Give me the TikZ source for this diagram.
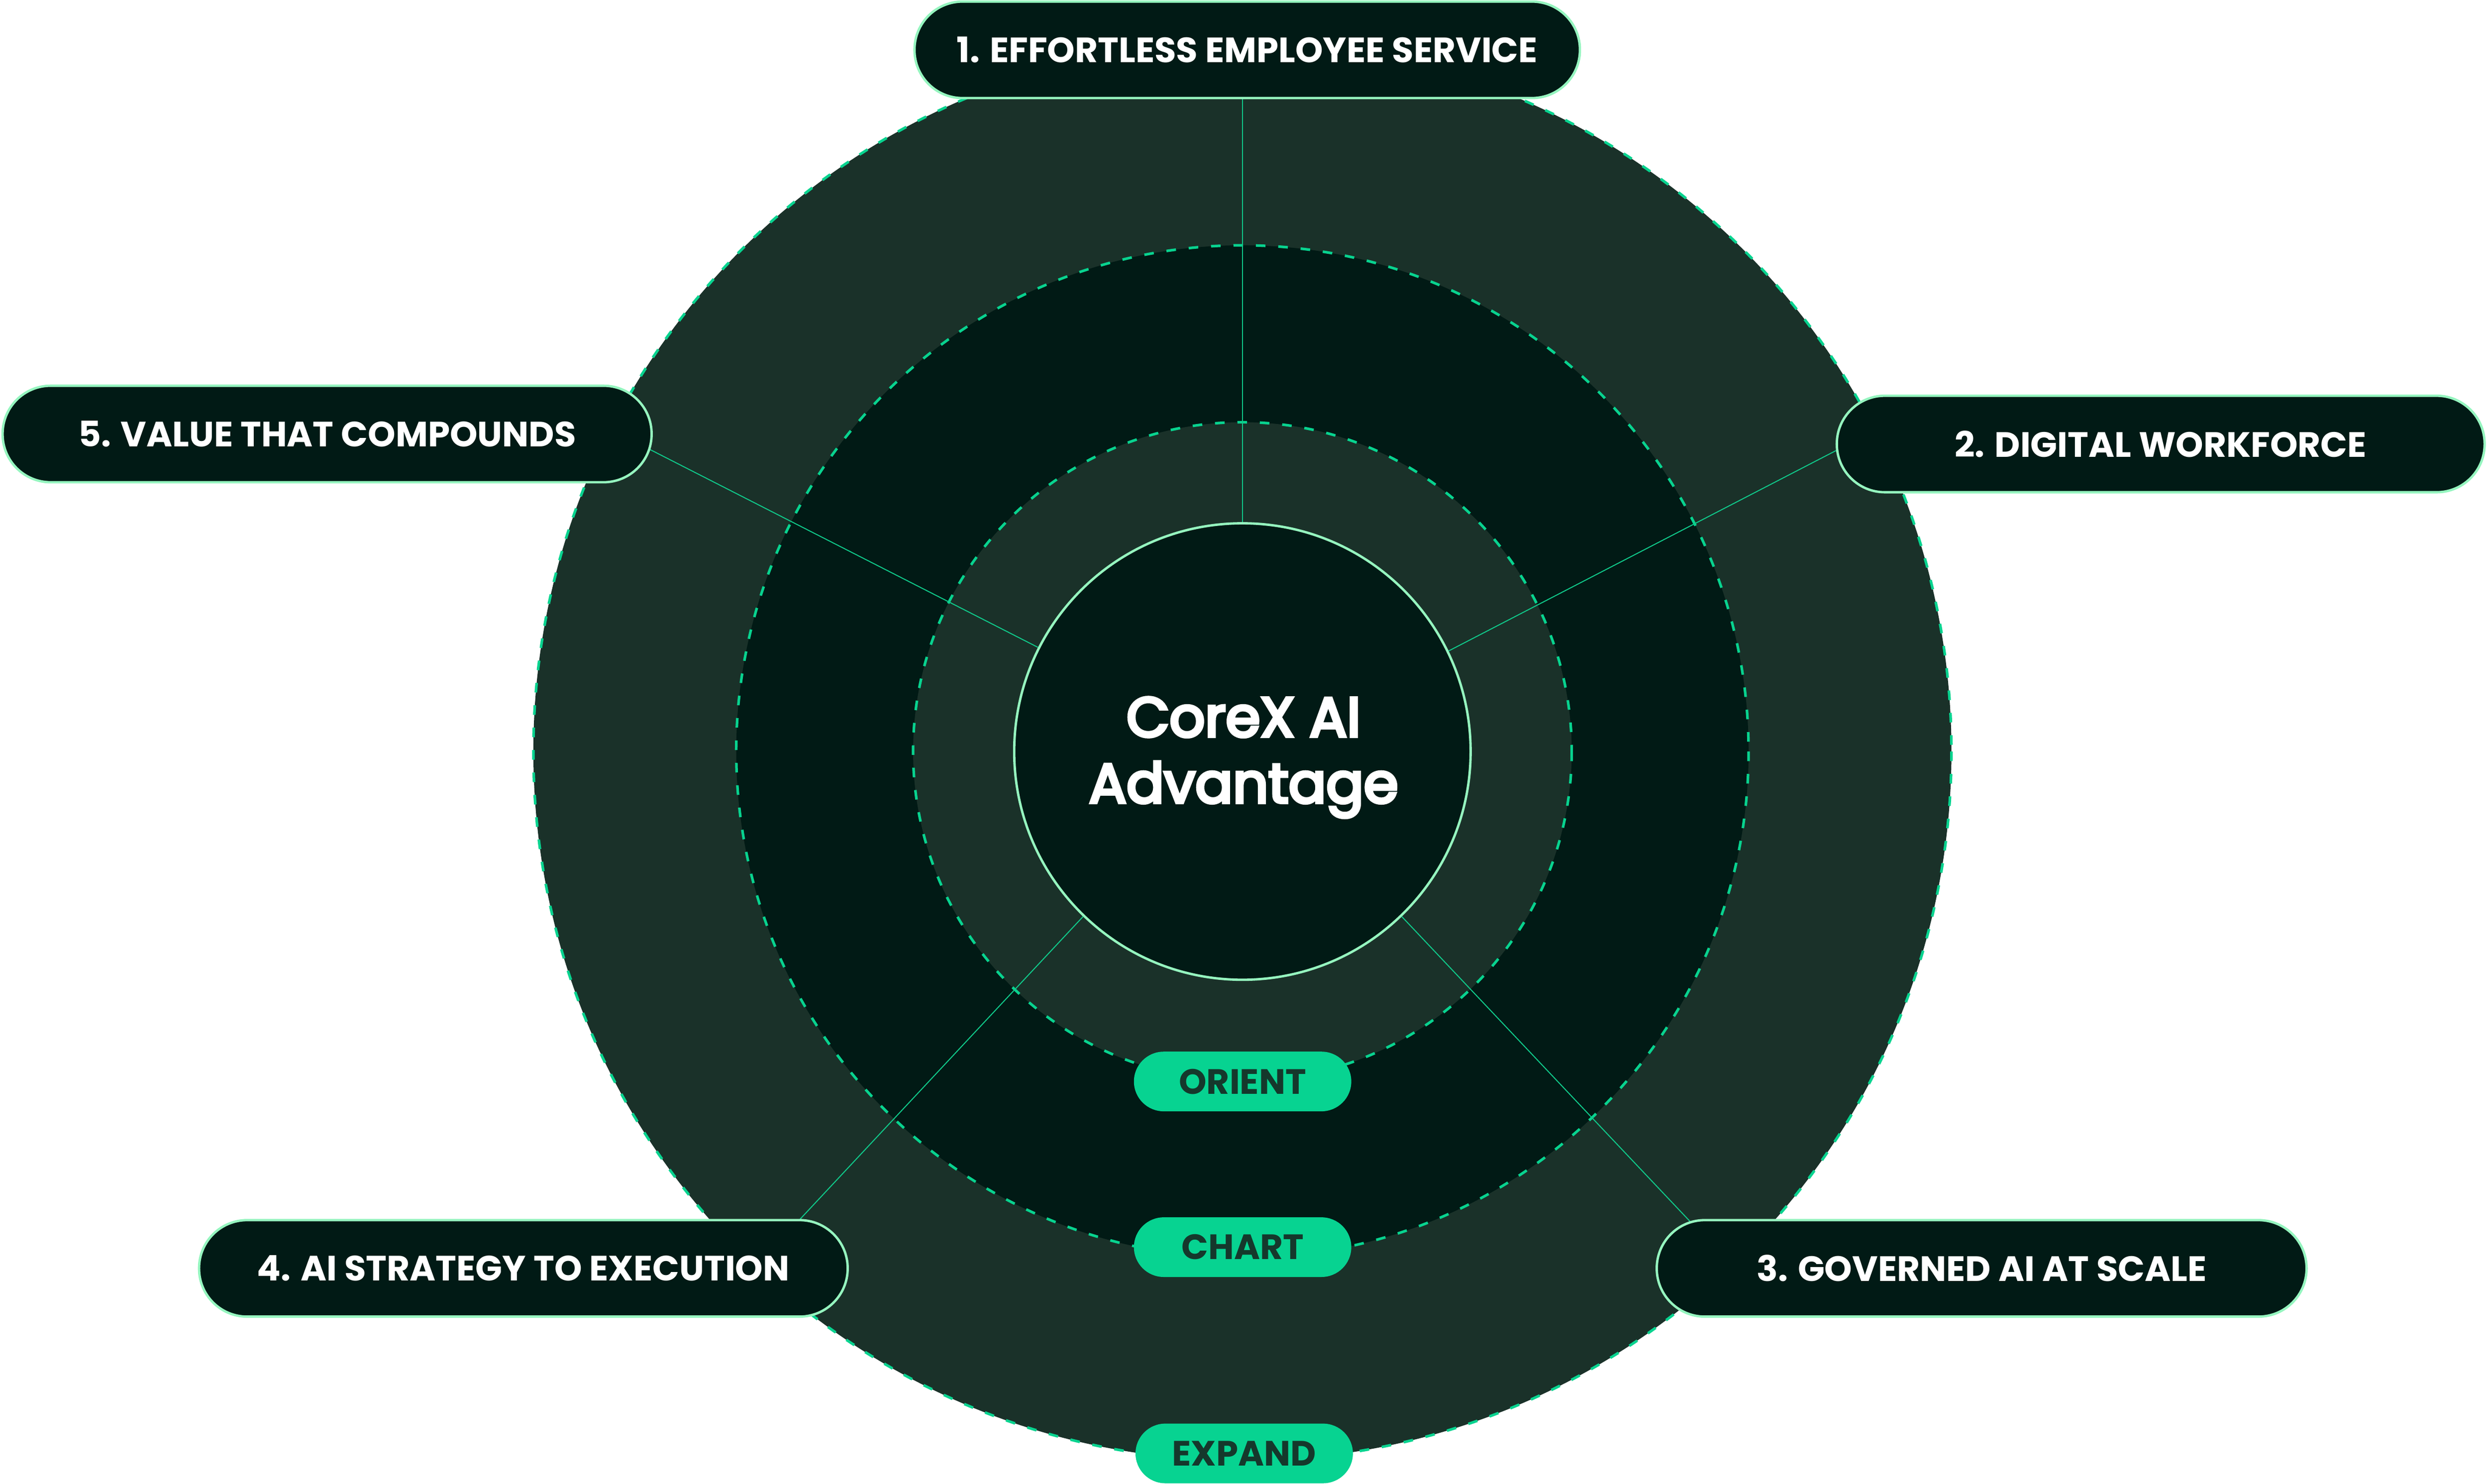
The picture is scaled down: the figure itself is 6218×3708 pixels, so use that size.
\documentclass[tikz,border=0pt]{standalone}
\usepackage{fontspec}
\setmainfont{Poppins}
\newfontfamily\medfont{Poppins}[FakeBold=5.5]
\definecolor{ringA}{RGB}{26,49,41}
\definecolor{deep}{RGB}{1,26,21}
\definecolor{dashG}{RGB}{8,211,143}
\definecolor{mint}{RGB}{149,245,191}
\definecolor{pillG}{RGB}{7,211,145}
\definecolor{pillT}{RGB}{21,56,44}
\definecolor{connG}{RGB}{16,201,138}
\tikzset{
  ringdash/.style={draw=dashG, line width=0.065cm, dash pattern=on 0.24cm off 0.32cm},
  conn/.style={draw=connG, line width=0.025cm},
  lab/.style={draw=mint, line width=0.06cm, fill=deep, text=white, rounded corners=1.2cm,
    minimum height=2.41cm, inner sep=0pt, font=\bfseries\fontsize{25}{30}\selectfont},
  pill/.style={fill=pillG, text=pillT, rounded corners=0.745cm, minimum width=5.43cm,
    minimum height=1.49cm, inner sep=0pt, font=\bfseries\fontsize{25}{30}\selectfont},
  core/.style={circle, draw=mint, line width=0.06cm, fill=deep, minimum size=11.4cm, inner sep=0pt},
  coretext/.style={text=white, inner sep=0pt, align=center, font=\medfont\fontsize{39.5}{47}\selectfont}
}
\begin{document}
\begin{tikzpicture}[x=0.01cm,y=-0.01cm]
\useasboundingbox (0,0) rectangle (6218,3708);
\coordinate (O) at (3105,1878);
% rings
\fill[ringA] (O) circle[radius=1772];
\draw[ringdash] (O) circle[radius=1772];
\fill[deep] (O) circle[radius=1265];
\draw[ringdash] (O) circle[radius=1265];
\fill[ringA] (O) circle[radius=823];
\draw[ringdash] (O) circle[radius=823];
% centre
\node[core] (core) at (O) {};
\node[coretext] (coretxt) at (3108,1893) {CoreX AI\\Advantage};
% connector ends
\coordinate (e1) at (3105,240);
\coordinate (e2) at (4600,1120);
\coordinate (e3) at (4231,3060);
\coordinate (e4) at (1987,3060);
\coordinate (e5) at (1620,1121);
\draw[conn] (core.90) -- (e1);
\draw[conn] (core.26.9) -- (e2);
\draw[conn] (core.-46.4) -- (e3);
\draw[conn] (core.226.6) -- (e4);
\draw[conn] (core.153) -- (e5);
% pills
\node[pill] (orient) at (3105.5,2702.5) {ORIENT};
\node[pill] (chart) at (3105.5,3116.5) {CHART};
\node[pill] (expand) at (3109.5,3632) {EXPAND};
% labels
\node[lab, minimum width=16.62cm] (l1) at (3117,124.5) {1. EFFORTLESS EMPLOYEE SERVICE};
\node[lab, minimum width=16.18cm] (l2) at (5400,1109.5) {2. DIGITAL WORKFORCE};
\node[lab, minimum width=16.23cm] (l3) at (4952.5,3169.5) {3. GOVERNED AI AT SCALE};
\node[lab, minimum width=16.20cm] (l4) at (1308,3169.5) {4. AI STRATEGY TO EXECUTION};
\node[lab, minimum width=16.21cm] (l5) at (817.5,1084.5) {5. VALUE THAT COMPOUNDS};
\end{tikzpicture}
\end{document}
